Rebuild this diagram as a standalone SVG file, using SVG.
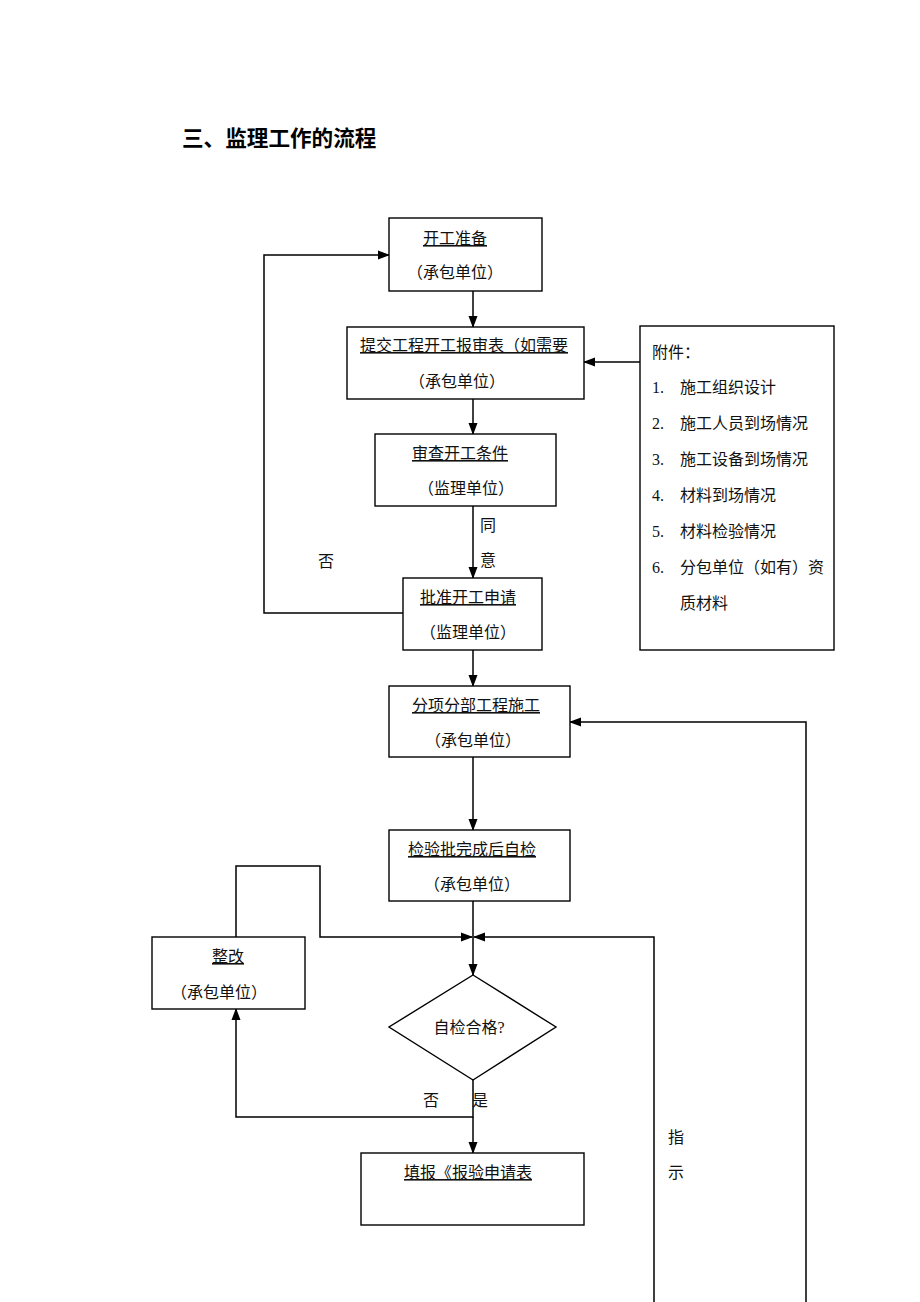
<svg xmlns="http://www.w3.org/2000/svg" width="920" height="1302" viewBox="0 0 920 1302">
<defs>
<marker id="ah" markerWidth="12" markerHeight="10" refX="11" refY="5" orient="auto" markerUnits="userSpaceOnUse">
<path d="M0,0.5 L12,5 L0,9.5 Z" fill="#000"/>
</marker>
<style>
.t{font-family:"Liberation Serif","Noto Sans CJK SC",serif;font-size:16px;fill:#111;}
.u{text-decoration:underline;}
.m{text-anchor:middle;}
.b{fill:#fff;stroke:#000;stroke-width:1.4;}
.c{fill:none;stroke:#000;stroke-width:1.5;}
.title{font-family:"Liberation Sans","Noto Sans CJK SC",sans-serif;font-size:21.6px;font-weight:bold;fill:#000;}
</style>
</defs>
<rect width="920" height="1302" fill="#fff"/>
<text class="title" x="182" y="146">三、监理工作的流程</text>

<g id="connectors">
<line class="c" x1="473" y1="291" x2="473" y2="327" marker-end="url(#ah)"/>
<line class="c" x1="640" y1="362" x2="584" y2="362" marker-end="url(#ah)"/>
<line class="c" x1="473" y1="399" x2="473" y2="434" marker-end="url(#ah)"/>
<line class="c" x1="473" y1="506" x2="473" y2="578" marker-end="url(#ah)"/>
<polyline class="c" points="403,613 264,613 264,255 389,255" marker-end="url(#ah)"/>
<line class="c" x1="473" y1="650" x2="473" y2="686" marker-end="url(#ah)"/>
<polyline class="c" points="806,1302 806,722 570,722" marker-end="url(#ah)"/>
<line class="c" x1="473" y1="757" x2="473" y2="830" marker-end="url(#ah)"/>
<line class="c" x1="473" y1="901" x2="473" y2="975" marker-end="url(#ah)"/>
<polyline class="c" points="236,937 236,866 320,866 320,937 472,937" marker-end="url(#ah)"/>
<polyline class="c" points="654,1302 654,937 474,937" marker-end="url(#ah)"/>
<polyline class="c" points="473,1080 473,1117 236,1117 236,1009" marker-end="url(#ah)"/>
<line class="c" x1="473" y1="1117" x2="473" y2="1153" marker-end="url(#ah)"/>
</g>

<g id="labels">
<text class="t" x="318" y="567">否</text>
<text class="t" x="480" y="531">同</text>
<text class="t" x="480" y="566">意</text>
<text class="t" x="423" y="1106">否</text>
<text class="t" x="472" y="1106">是</text>
<text class="t" x="668" y="1143">指</text>
<text class="t" x="668" y="1178">示</text>
</g>

<g id="n1">
<rect class="b" x="389" y="218" width="153" height="73"/>
<text class="t u m" x="455" y="244">开工准备</text>
<text class="t m" x="455" y="278">（承包单位）</text>
</g>
<g id="n2">
<rect class="b" x="347" y="327" width="237" height="72"/>
<text class="t u m" x="464" y="351">提交工程开工报审表（如需要</text>
<text class="t m" x="457" y="387">（承包单位）</text>
</g>
<g id="n3">
<rect class="b" x="375" y="434" width="181" height="72"/>
<text class="t u m" x="460" y="459">审查开工条件</text>
<text class="t m" x="466" y="494">（监理单位）</text>
</g>
<g id="n4">
<rect class="b" x="403" y="578" width="139" height="72"/>
<text class="t u m" x="468" y="603">批准开工申请</text>
<text class="t m" x="468" y="638">（监理单位）</text>
</g>
<g id="attach">
<rect class="b" x="640" y="326" width="194" height="324"/>
<text class="t" x="652" y="358">附件：</text>
<text class="t" x="652" y="393">1.</text><text class="t" x="680" y="393">施工组织设计</text>
<text class="t" x="652" y="429">2.</text><text class="t" x="680" y="429">施工人员到场情况</text>
<text class="t" x="652" y="465">3.</text><text class="t" x="680" y="465">施工设备到场情况</text>
<text class="t" x="652" y="501">4.</text><text class="t" x="680" y="501">材料到场情况</text>
<text class="t" x="652" y="537">5.</text><text class="t" x="680" y="537">材料检验情况</text>
<text class="t" x="652" y="573">6.</text><text class="t" x="680" y="573">分包单位（如有）资</text>
<text class="t" x="680" y="609">质材料</text>
</g>
<g id="n5">
<rect class="b" x="389" y="686" width="181" height="71"/>
<text class="t u m" x="476" y="711">分项分部工程施工</text>
<text class="t m" x="473" y="746">（承包单位）</text>
</g>
<g id="n6">
<rect class="b" x="389" y="830" width="181" height="71"/>
<text class="t u m" x="472" y="855">检验批完成后自检</text>
<text class="t m" x="472" y="890">（承包单位）</text>
</g>
<g id="n7">
<rect class="b" x="152" y="937" width="153" height="72"/>
<text class="t u m" x="228" y="962">整改</text>
<text class="t m" x="219" y="998">（承包单位）</text>
</g>
<g id="n8">
<polygon class="b" points="473,975 556,1027 473,1080 389,1027"/>
<text class="t m" x="469" y="1033">自检合格?</text>
</g>
<g id="n9">
<rect class="b" x="361" y="1153" width="223" height="72"/>
<text class="t u m" x="468" y="1178">填报《报验申请表</text>
</g>
</svg>
